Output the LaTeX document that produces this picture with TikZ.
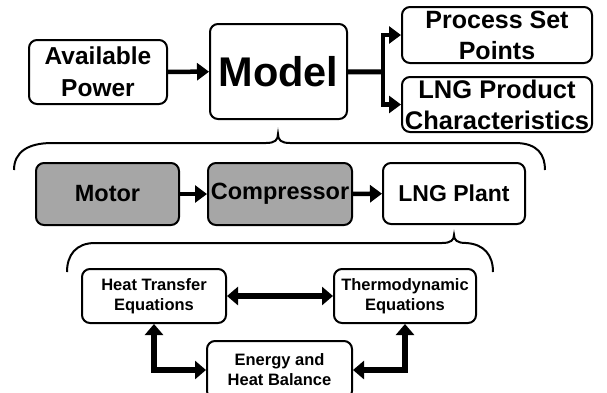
\documentclass[tikz,border=0pt]{standalone}
\usepackage{fontspec}
\setmainfont{Liberation Sans}
\usetikzlibrary{arrows.meta}
\definecolor{boxgray}{RGB}{166,166,166}
\begin{document}
\begin{tikzpicture}[x=1pt, y=-1pt,
        box/.style={draw, line width=2pt, rounded corners=8pt, align=center, inner sep=0pt},
        link/.style={line width=4.5pt, -{Triangle[length=12pt,width=17pt]}},
        twolink/.style={line width=5.5pt, {Triangle[length=11pt,width=18pt]}-{Triangle[length=11pt,width=18pt]}},
        brace/.style={line width=2pt}]
    \useasboundingbox (0,0) rectangle (607,392);

    % top row
    \node (power) at (98,72) [box, minimum width=138pt, minimum height=64pt,
        font={\bfseries\fontsize{24.5}{31.7}\selectfont}] {Available\\Power};
    \node (model) at (278.5,71.5) [box, minimum width=137pt, minimum height=95pt,
        font={\bfseries\fontsize{41.5}{48}\selectfont}] {Model};
    \node (setpts) at (497,35) [box, minimum width=190pt, minimum height=56pt,
        font={\bfseries\fontsize{25}{31}\selectfont}] {Process Set\\Points};
    \node (product) at (497,104.5) [box, minimum width=190pt, minimum height=55pt,
        font={\bfseries\fontsize{25.5}{31}\selectfont}] {LNG Product\\Characteristics};
    \coordinate (split) at (383,72);

    \draw[link] (power) -- (model);
    \draw[line width=5pt] (model) -- (split);
    \draw[link] (split) |- (setpts);
    \draw[link] (split) |- (product);

    \draw[brace] (14,170) .. controls (14,152) and (28,143) .. (52,143) -- (266,143)
        .. controls (275,143) and (278,140) .. (278,134)
        .. controls (278,140) and (281,143) .. (290,143) -- (515,143)
        .. controls (538,143) and (545,155) .. (545,170);

    % middle row
    \node (motor) at (107.5,194) [box, fill=boxgray, minimum width=143pt, minimum height=62pt,
        font={\bfseries\fontsize{23.5}{28}\selectfont}] {Motor};
    \node (comp) at (280,194) [box, fill=boxgray, minimum width=144pt, minimum height=62pt,
        font={\bfseries\fontsize{23.5}{28}\selectfont}] {Compressor};
    \node (plant) at (454,193.5) [box, minimum width=142pt, minimum height=61pt,
        font={\bfseries\fontsize{23}{28}\selectfont}] {LNG Plant};

    \draw[link] (motor) -- (comp);
    \draw[link] (comp) -- (plant);

    \draw[brace] (67,272) .. controls (67,255) and (76,243) .. (95,243) -- (442,243)
        .. controls (451,243) and (454,240) .. (454,235)
        .. controls (454,240) and (457,243) .. (466,243)
        .. controls (484,244) and (493,255) .. (493,272);

    % bottom row
    \node (heat) at (154,296) [box, minimum width=144pt, minimum height=54pt,
        font={\bfseries\fontsize{16.5}{20}\selectfont}] {Heat Transfer\\Equations};
    \node (thermo) at (405,296) [box, minimum width=142pt, minimum height=54pt,
        font={\bfseries\fontsize{16.5}{20}\selectfont}] {Thermodynamic\\Equations};
    \node (energy) at (279.5,370) [box, minimum width=145pt, minimum height=58pt,
        font={\bfseries\fontsize{16.5}{20}\selectfont}] {Energy and\\Heat Balance};

    \draw[twolink] (heat) -- (thermo);
    \draw[twolink] (heat.south) |- (energy);
    \draw[twolink] (thermo.south) |- (energy);
\end{tikzpicture}
\end{document}
